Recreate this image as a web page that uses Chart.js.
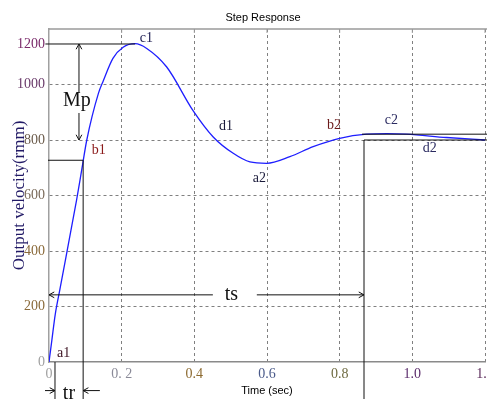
<!DOCTYPE html>
<html>
<head>
<meta charset="utf-8">
<script src="https://cdn.jsdelivr.net/npm/chart.js@4.4.1/dist/chart.umd.min.js"></script>
<style>
  html, body { margin: 0; padding: 0; background: #fff; }
</style>
</head>
<body>
<canvas id="step-chart" width="487" height="399"></canvas>
<script>
// step response (time in s, velocity in rpm)
const timeSec  = [0, 0.008, 0.017, 0.03, 0.076, 0.09, 0.104, 0.136, 0.149, 0.176, 0.204, 0.237, 0.269, 0.324, 0.396, 0.452, 0.507, 0.553, 0.599, 0.663, 0.727, 0.8, 0.874, 0.93, 0.984, 1.094, 1.2];
const velocity = [0, 80, 170, 262, 584, 692, 800, 968, 1012, 1094, 1134, 1147, 1130, 1063, 907, 811, 752, 721, 716, 740, 776, 806, 821, 823, 821, 809, 800];

const xTickValues = [0, 0.2, 0.4, 0.6, 0.8, 1.0, 1.2];
const xTickLabels = ['0', '0. 2', '0.4', '0.6', '0.8', '1.0', '1.2'];
const yTickValues = [0, 200, 400, 600, 800, 1000, 1146];
const yTickLabels = ['0', '200', '400', '600', '800', '1000', '1200'];

// marked points on the curve
const pointNames = ['a1', 'b1', 'c1', 'd1', 'a2', 'b2', 'c2', 'd2'];
const pointT     = [0.022, 0.118, 0.25, 0.468, 0.561, 0.765, 0.924, 1.029];
const pointV     = [30, 763, 1166, 850, 663, 854, 872, 771];

// annotation values
const peakT = 0.237, peakV = 1146;
const riseT = 0.094, riseV = 727, riseStartT = 0.0165;
const settleT = 0.867, bandV = 821, finalV = 800;
const mpT = 0.0825, tsV = 242, trV = -103;

const xTickColors = ['#a0a0a0', '#8a8a98', '#8c6a30', '#4a5a8a', '#6e6a40', '#5a2a6a', '#5a2a5a'];
const yTickColors = ['#a0a0a0', '#8a6a3a', '#8a6a3a', '#7a6a5a', '#6a5a4a', '#6a3a6a', '#7a2a6a'];
const labelColors = ['#3a1020', '#8b1a1a', '#1a1a50', '#1a1a3a', '#1a1a3a', '#6b1a1a', '#2a2a60', '#2a2a60'];

const serif = "'Times New Roman', 'Liberation Serif', serif";

function arrow(ctx, x1, y1, x2, y2) {
  const a = Math.atan2(y2 - y1, x2 - x1), s = 6;
  ctx.beginPath();
  ctx.moveTo(x1, y1); ctx.lineTo(x2, y2);
  ctx.moveTo(x2 - s * Math.cos(a - 0.5), y2 - s * Math.sin(a - 0.5));
  ctx.lineTo(x2, y2);
  ctx.lineTo(x2 - s * Math.cos(a + 0.5), y2 - s * Math.sin(a + 0.5));
  ctx.stroke();
}

const annotations = {
  id: 'annotations',
  afterDraw(chart) {
    const ctx = chart.ctx, xs = chart.scales.x, ys = chart.scales.y, area = chart.chartArea;
    const X = v => xs.getPixelForValue(v), Y = v => ys.getPixelForValue(v);
    const bottom = chart.height;
    ctx.save();

    // title
    ctx.fillStyle = '#000';
    ctx.font = "11px 'Liberation Sans', Arial, sans-serif";
    ctx.textAlign = 'center'; ctx.textBaseline = 'middle';
    ctx.fillText('Step Response', 263, 18);

    // top border with inward ticks
    ctx.strokeStyle = '#9a9a9a'; ctx.lineWidth = 1.5;
    ctx.beginPath(); ctx.moveTo(area.left, area.top); ctx.lineTo(area.right + 2, area.top); ctx.stroke();
    ctx.lineWidth = 1;
    xTickValues.slice(1).forEach(v => {
      ctx.beginPath(); ctx.moveTo(X(v), area.top); ctx.lineTo(X(v), area.top + 4); ctx.stroke();
    });

    ctx.strokeStyle = '#111'; ctx.lineWidth = 1;
    const line = (x1, y1, x2, y2) => { ctx.beginPath(); ctx.moveTo(x1, y1); ctx.lineTo(x2, y2); ctx.stroke(); };

    // overshoot level and Mp arrow
    line(X(-0.01), Y(peakV), X(peakT), Y(peakV));
    arrow(ctx, X(mpT), Y(peakV) + 49, X(mpT), Y(peakV));
    arrow(ctx, X(mpT), Y(peakV) + 69, X(mpT), Y(finalV));

    // rise time marks
    line(X(0) - 1, Y(riseV), X(riseT), Y(riseV));
    line(X(riseT), Y(riseV), X(riseT), bottom);
    line(X(riseStartT), Y(0), X(riseStartT), bottom);
    arrow(ctx, X(-0.011), Y(trV), X(riseStartT), Y(trV));
    arrow(ctx, X(0.14), Y(trV), X(riseT), Y(trV));

    // settling band and settling time
    line(X(settleT) - 2, Y(bandV), chart.width, Y(bandV));
    line(X(settleT), Y(finalV), chart.width, Y(finalV));
    line(X(settleT), Y(finalV), X(settleT), bottom);
    arrow(ctx, X(0.451), Y(tsV), X(0), Y(tsV));
    arrow(ctx, X(0.572), Y(tsV), X(settleT), Y(tsV));

    // big labels
    ctx.fillStyle = '#111';
    ctx.font = '20px ' + serif;
    ctx.textAlign = 'center';
    ctx.fillText('Mp', X(mpT) - 2, Y(peakV) + 57);
    ctx.fillText('ts', X(0.502), Y(tsV));
    ctx.fillText('tr', X(0.055), Y(trV) + 3);

    // point labels
    ctx.font = '14px ' + serif;
    ctx.textAlign = 'left';
    pointNames.forEach((name, i) => {
      ctx.fillStyle = labelColors[i];
      ctx.fillText(name, X(pointT[i]), Y(pointV[i]));
    });
    ctx.restore();
  }
};

const ctx = document.getElementById('step-chart').getContext('2d');
new Chart(ctx, {
  type: 'line',
  data: {
    datasets: [{
      data: timeSec.map((t, i) => ({ x: t, y: velocity[i] })),
      borderColor: '#1e1eff',
      borderWidth: 1.3,
      pointRadius: 0,
      cubicInterpolationMode: 'monotone',
      fill: false
    }]
  },
  options: {
    responsive: false,
    animation: false,
    devicePixelRatio: 1,
    layout: { padding: { top: 29, right: 2, left: 0, bottom: 0 } },
    plugins: { legend: { display: false }, tooltip: { enabled: false }, title: { display: false } },
    scales: {
      x: {
        type: 'linear', min: 0, max: 1.2,
        afterBuildTicks: s => { s.ticks = xTickValues.map(v => ({ value: v })); },
        afterFit: s => { s.height = 37; s.paddingLeft = 0; s.paddingRight = 0; },
        ticks: {
          autoSkip: false, maxRotation: 0, padding: 4,
          callback: (v, i) => xTickLabels[i],
          color: c => xTickColors[c.index],
          font: { family: serif, size: 14 }
        },
        grid: {
          drawTicks: false,
          color: c => (c.index === 0 ? 'rgba(0,0,0,0)' : '#808080')
        },
        border: { color: '#8a8a8a', width: 1.5, dash: [3, 3] },
        title: {
          display: true, text: 'Time (sec)', color: '#000',
          font: { family: "'Liberation Sans', Arial, sans-serif", size: 11 },
          padding: { top: 0, bottom: 1 }
        }
      },
      y: {
        type: 'linear', min: 0, max: 1200,
        afterBuildTicks: s => { s.ticks = yTickValues.map(v => ({ value: v })); },
        afterFit: s => { s.width = 49; s.paddingTop = 0; s.paddingBottom = 0; },
        ticks: {
          autoSkip: false, padding: 4,
          callback: (v, i) => yTickLabels[i],
          color: c => yTickColors[c.index],
          font: { family: serif, size: 14 }
        },
        grid: {
          drawTicks: false,
          color: c => (c.index === 0 || c.index === yTickValues.length - 1 ? 'rgba(0,0,0,0)' : '#808080')
        },
        border: { color: '#a0a0a0', width: 1.5, dash: [3, 3] },
        title: {
          display: true, text: 'Output velocity(rmm)', color: '#221a66',
          font: { family: serif, size: 17 },
          padding: { top: 9, bottom: 0 }
        }
      }
    }
  },
  plugins: [annotations]
});
</script>
</body>
</html>
